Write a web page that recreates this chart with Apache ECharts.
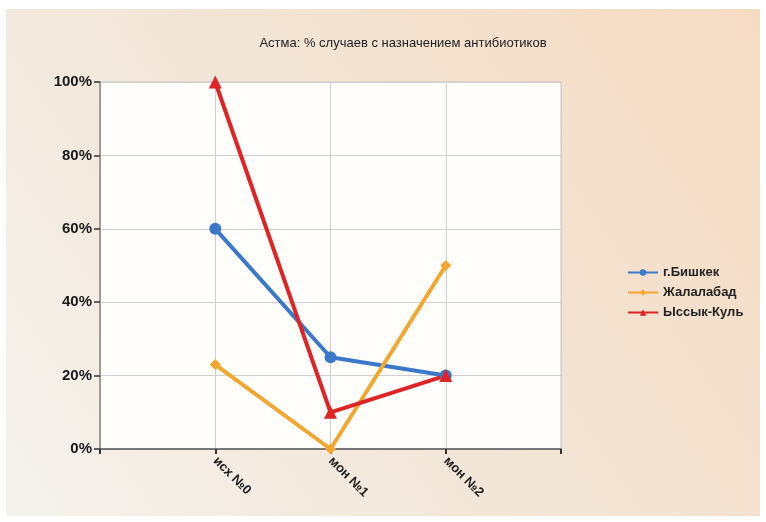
<!DOCTYPE html>
<html>
<head>
<meta charset="utf-8">
<script src="https://cdn.jsdelivr.net/npm/echarts@6/dist/echarts.min.js"></script>
<style>
  html, body { margin: 0; padding: 0; background: #fff; }
  #chart { width: 766px; height: 522px; }
</style>
</head>
<body>
<div id="chart"></div>
<script>
// data
const categories = ['исх №0', 'мон №1', 'мон №2']
const bishkek = [60, 25, 20]
const jalalabad = [23, 0, 50]
const issykKul = [100, 10, 20]
const yTicks = [0, 20, 40, 60, 80, 100]

// empty slots on both sides, so the points sit away from the plot edges
const axisData = [''].concat(categories, [''])
const pad = arr => [null].concat(arr, [null])

const chart = echarts.init(document.getElementById('chart'))

const lineSeries = (name, data, color, symbol, size) => ({
  name: name,
  type: 'line',
  data: pad(data),
  symbol: symbol,
  symbolSize: size,
  lineStyle: { width: 4, color: color },
  itemStyle: { color: color },
  connectNulls: false,
  animation: false
})

chart.setOption({
  textStyle: { fontFamily: 'Liberation Sans, Arial, sans-serif' },
  graphic: [{
    type: 'rect',
    z: -10,
    silent: true,
    shape: { x: 6, y: 9, width: 754, height: 507 },
    style: {
      fill: new echarts.graphic.LinearGradient(0, 1, 1, 0, [
        { offset: 0, color: '#f5f2ed' },
        { offset: 0.45, color: '#f2e6d8' },
        { offset: 1, color: '#f5dbc2' }
      ])
    }
  }],
  title: {
    text: 'Астма: % случаев с назначением антибиотиков',
    left: 398,
    textAlign: 'center',
    top: 32,
    textStyle: { fontSize: 13, fontWeight: 'normal', color: '#222' }
  },
  legend: {
    orient: 'vertical',
    left: 622,
    top: 261,
    itemWidth: 30,
    itemHeight: 8,
    itemGap: 7,
    textStyle: { fontSize: 13, fontWeight: 'bold', color: '#222' },
    data: ['г.Бишкек', 'Жалалабад', 'Ыссык-Куль']
  },
  grid: {
    left: 100,
    top: 82,
    right: 205,
    bottom: 73,
    show: true,
    backgroundColor: '#fffefb',
    borderColor: '#c4c4c4',
    borderWidth: 1
  },
  xAxis: {
    type: 'category',
    data: axisData,
    boundaryGap: false,
    axisLine: { lineStyle: { color: '#555', width: 1.5 } },
    axisTick: { show: true, length: 5, lineStyle: { color: '#333', width: 2 } },
    splitLine: { show: true, lineStyle: { color: '#d0d0d0', width: 1 } },
    axisLabel: {
      rotate: -45,
      margin: 10,
      fontSize: 13,
      fontWeight: 'bold',
      color: '#1a1a1a',
      interval: 0
    }
  },
  yAxis: {
    type: 'value',
    min: yTicks[0],
    max: yTicks[yTicks.length - 1],
    interval: yTicks[1] - yTicks[0],
    axisLine: { show: true, lineStyle: { color: '#888', width: 1.5 } },
    axisTick: { show: true, length: 6, lineStyle: { color: '#333', width: 1.5 } },
    splitLine: { show: true, lineStyle: { color: '#d0d0d0', width: 1 } },
    axisLabel: {
      formatter: '{value}%',
      fontSize: 15,
      fontWeight: 'bold',
      color: '#1a1a1a',
      margin: 8
    }
  },
  series: [
    lineSeries('г.Бишкек', bishkek, '#3b78c9', 'circle', 12),
    lineSeries('Жалалабад', jalalabad, '#f3a731', 'diamond', 11),
    lineSeries('Ыссык-Куль', issykKul, '#de2424', 'triangle', 13)
  ]
})
</script>
</body>
</html>
